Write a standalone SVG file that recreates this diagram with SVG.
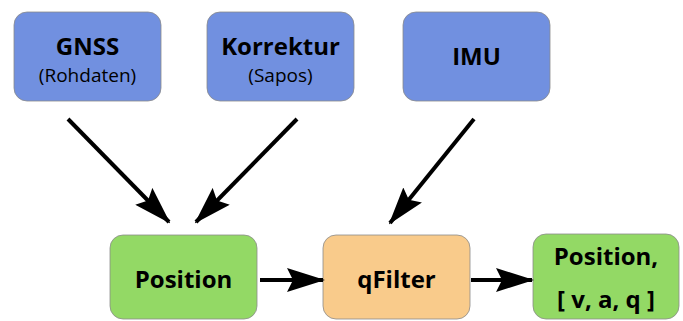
<svg xmlns="http://www.w3.org/2000/svg" width="683" height="321" viewBox="0 0 683 321">
<style>
.box{stroke:#8a8a8a;stroke-width:0.8}
.blue{fill:#7190e0}
.green{fill:#93d965}
.orange{fill:#f9cb8b}
.t{font-family:"Open Sans","Noto Sans",sans-serif;font-weight:bold;font-size:24px;fill:#000;text-anchor:middle}
.s{font-family:"Open Sans","Noto Sans",sans-serif;font-size:19px;fill:#000;text-anchor:middle}
.c{stroke:#000;stroke-width:4;fill:none}
</style>
<defs>
<marker id="ah" viewBox="0 0 38 24" refX="36" refY="12" markerWidth="38" markerHeight="24" markerUnits="userSpaceOnUse" orient="auto">
<path d="M0,0 L38,12 L0,24 L6,12 Z" fill="#000"/>
</marker>
</defs>
<g id="gnss"><rect class="box blue" x="14" y="12" width="147" height="89" rx="13"/><text class="t" x="87.5" y="55">GNSS</text><text class="s" x="87.5" y="82">(Rohdaten)</text></g>
<g id="korrektur"><rect class="box blue" x="207" y="12" width="147" height="89" rx="13"/><text class="t" x="280.5" y="55">Korrektur</text><text class="s" x="280.5" y="82">(Sapos)</text></g>
<g id="imu"><rect class="box blue" x="403" y="12" width="147" height="89" rx="13"/><text class="t" x="476.5" y="65">IMU</text></g>
<g id="position"><rect class="box green" x="110" y="235" width="147" height="84" rx="13"/><text class="t" x="183.5" y="288">Position</text></g>
<g id="qfilter"><rect class="box orange" x="323" y="235" width="147" height="84" rx="13"/><text class="t" x="396.5" y="288">qFilter</text></g>
<g id="output"><rect class="box green" x="533" y="234" width="146" height="85" rx="13"/><text class="t" x="606" y="265">Position,</text><text class="t" x="606" y="308">[ v, a, q ]</text></g>
<g id="connectors">
<line class="c" x1="68" y1="119" x2="169" y2="222" marker-end="url(#ah)"/>
<line class="c" x1="297" y1="119" x2="196" y2="222" marker-end="url(#ah)"/>
<line class="c" x1="474" y1="119" x2="390" y2="223" marker-end="url(#ah)"/>
<line class="c" x1="260" y1="280" x2="323" y2="280" marker-end="url(#ah)"/>
<line class="c" x1="471" y1="280" x2="532" y2="280" marker-end="url(#ah)"/>
</g>
</svg>
